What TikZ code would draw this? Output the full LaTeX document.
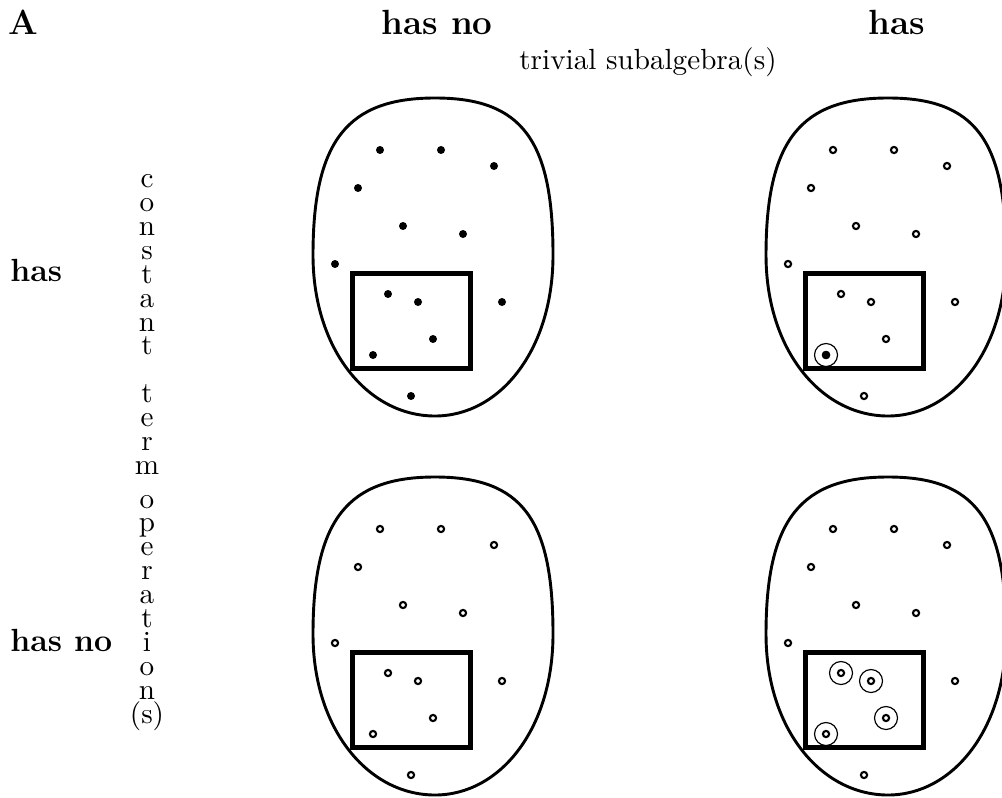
\documentclass[tikz,border=0pt]{standalone}
\usetikzlibrary{calc}

\tikzset{
  outline/.style={line width=1pt},
  frame/.style={line width=1.7pt},
  hollow/.style={line width=0.72pt},
  ring/.style={line width=0.4pt},
  head/.style={font=\large\bfseries},
  side/.style={font=\fontsize{11}{13}\selectfont\bfseries,anchor=west}
}

\begin{document}
\begin{tikzpicture}[x=0.343pt,y=-0.343pt]
\useasboundingbox (0,0) rectangle (1002,797);

% headings
\node[head] (corner) at (23,22) {A};
\node[head] (hasnotop) at (437,22) {has no};
\node[head] (hastop) at (897,22) {has};
\node (trivial) at (648,62) {trivial subalgebra(s)};

\node[side] (hasleft) at (0,270) {has};
\node[side] (hasnoleft) at (0,640) {has no};
\node[anchor=north,inner sep=0pt,align=center,
      font=\normalsize\setlength{\baselineskip}{8.2pt}] (term) at (147,174)
  {c\\o\\n\\s\\t\\a\\n\\t\\[8.2pt]t\\e\\r\\m\\[3.3pt]o\\p\\e\\r\\a\\t\\i\\o\\n\\(s)};

% the four sets with their subsets
\foreach \dx/\dy in {0/0,453/0,0/379,453/379}{
  \begin{scope}[shift={(\dx,\dy)}]
    \draw[outline] (435,98) .. controls (522,98) and (553,140) .. (553,255)
      .. controls (553,350) and (500,416) .. (435,416)
      .. controls (368,416) and (313,350) .. (313,255)
      .. controls (313,140) and (348,98) .. (435,98);
    \draw[frame] (352.5,273.5) rectangle (470.5,368.5);
  \end{scope}
}

% elements: no trivial subalgebra, constants
\foreach \x/\y in {380/150,441/150,494/166,358/188,403/226,463/234,335/264,
                   388/294,418/302,502/302,433/339,373/355,411/396}
  \fill (\x,\y) circle (4);

% elements of the other three
\foreach \dx/\dy in {453/0,0/379,453/379}
  \foreach \x/\y in {380/150,441/150,494/166,358/188,403/226,463/234,335/264,
                     388/294,418/302,502/302,433/339,373/355,411/396}
    \draw[hollow] (\x+\dx,\y+\dy) circle (3.1);

% trivial subalgebras
\fill (826,355) circle (4.2);
\draw[ring] (826,355) circle (11.5);
\foreach \x/\y in {841/673,871/681,886/718,826/734}
  \draw[ring] (\x,\y) circle (11.5);
\end{tikzpicture}
\end{document}
